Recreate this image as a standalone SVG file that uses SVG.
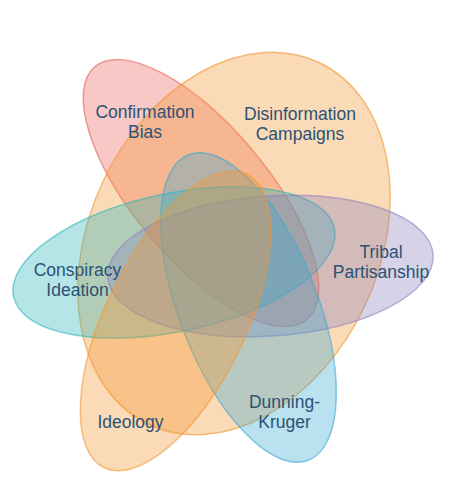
<svg xmlns="http://www.w3.org/2000/svg" width="452" height="500" viewBox="0 0 452 500">
<style>
.set{fill-opacity:0.35;stroke-width:1.5;stroke-opacity:0.6}
.lbl{font-family:"Liberation Sans",Arial,Helvetica,sans-serif;font-size:17.5px;fill:#2b5275;text-anchor:middle}
</style>
<rect width="452" height="500" fill="#ffffff"/>
<g id="sets">
<g id="confirmation-bias"><ellipse class="set" cx="201" cy="193" rx="165" ry="67" transform="rotate(50 201 193)" fill="#e8625a" stroke="#e8625a"/></g>
<g id="disinformation-campaigns"><ellipse class="set" cx="234" cy="243.5" rx="200" ry="145" transform="rotate(-65 234 243.5)" fill="#f49631" stroke="#f49631"/></g>
<g id="conspiracy-ideation"><ellipse class="set" cx="174" cy="262.5" rx="164" ry="69" transform="rotate(-12 174 262.5)" fill="#2cb5b8" stroke="#2cb5b8"/></g>
<g id="tribal-partisanship"><ellipse class="set" cx="270.5" cy="266" rx="163" ry="70" transform="rotate(-4 270.5 266)" fill="#8a81be" stroke="#8a81be"/></g>
<g id="dunning-kruger"><ellipse class="set" cx="248.5" cy="307.5" rx="164" ry="69" transform="rotate(68.6 248.5 307.5)" fill="#38a9d3" stroke="#38a9d3"/></g>
<g id="ideology"><ellipse class="set" cx="175.5" cy="321" rx="163" ry="70" transform="rotate(-64 175.5 321)" fill="#f49631" stroke="#f49631"/></g>
</g>
<g id="connectors"></g>
<g id="labels">
<text class="lbl" x="145" y="118">Confirmation</text>
<text class="lbl" x="145" y="138">Bias</text>
<text class="lbl" x="300" y="120">Disinformation</text>
<text class="lbl" x="300" y="140">Campaigns</text>
<text class="lbl" x="77.5" y="276">Conspiracy</text>
<text class="lbl" x="77.5" y="296">Ideation</text>
<text class="lbl" x="381" y="258">Tribal</text>
<text class="lbl" x="381" y="278">Partisanship</text>
<text class="lbl" x="130.5" y="428">Ideology</text>
<text class="lbl" x="284.5" y="408">Dunning-</text>
<text class="lbl" x="284.5" y="428">Kruger</text>
</g>
</svg>
